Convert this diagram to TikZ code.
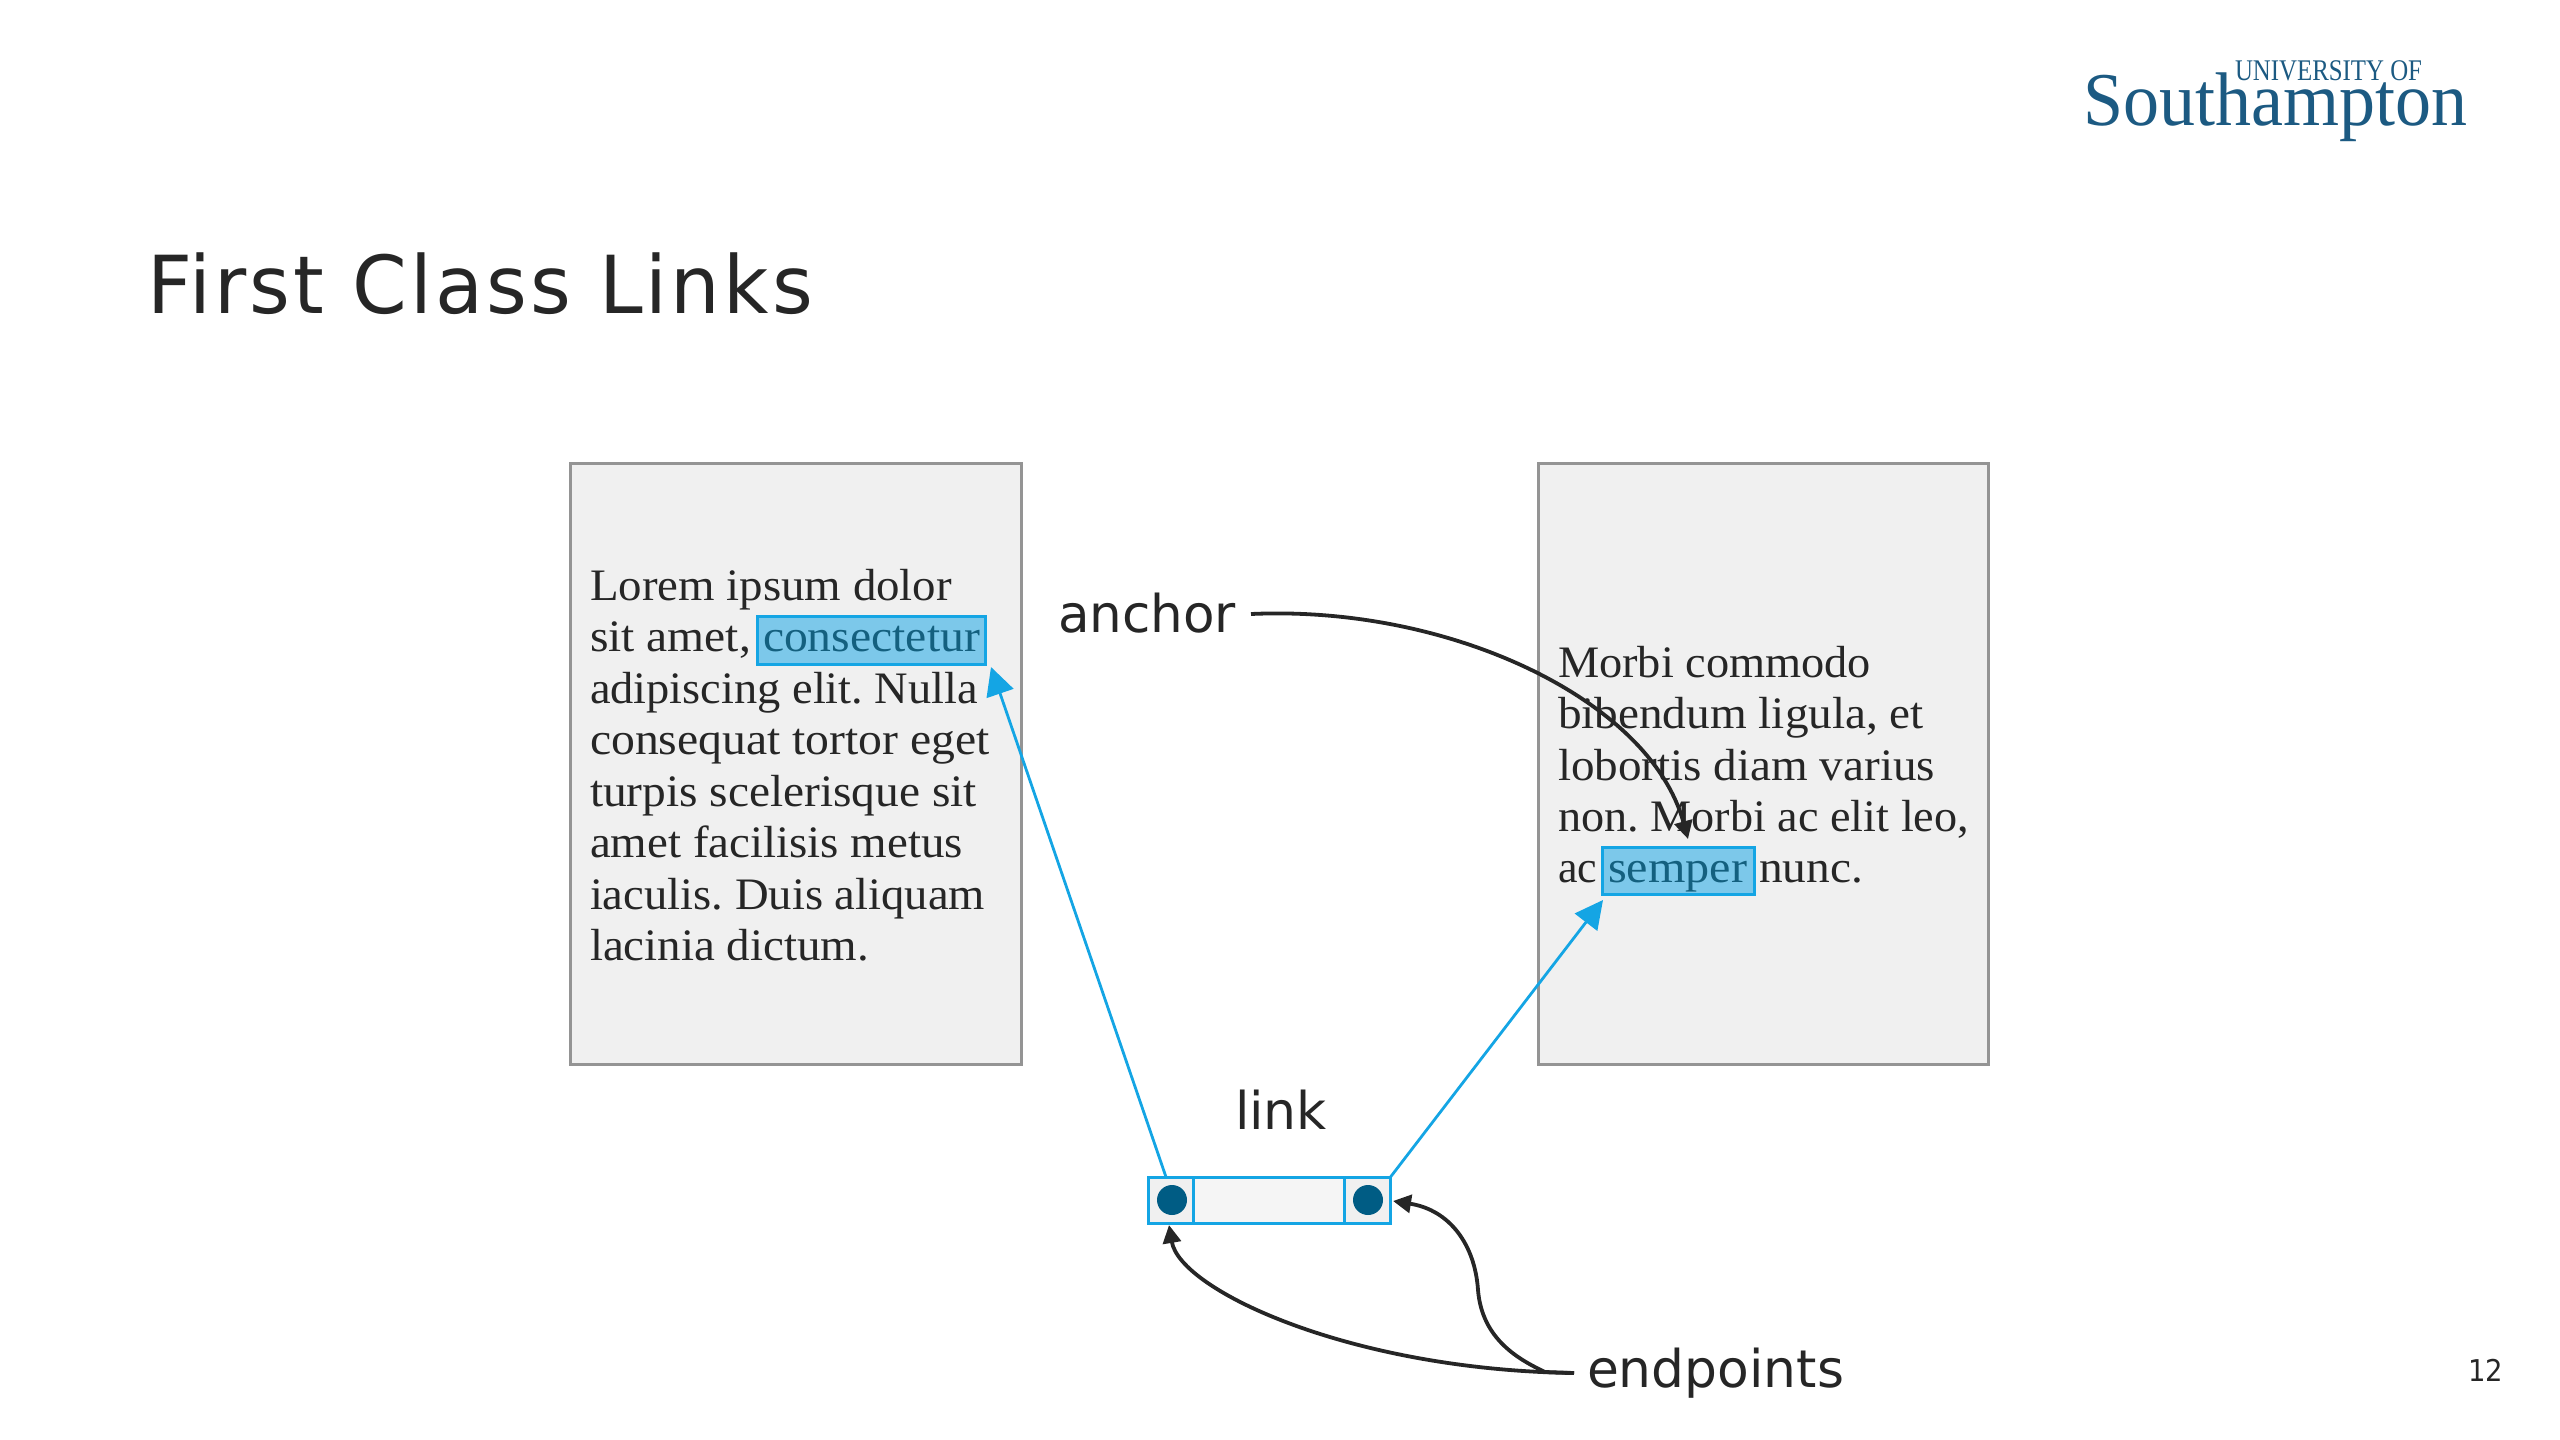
\documentclass[tikz,border=0pt]{standalone}
\usepackage{fontspec}
\usepackage{graphicx}
\setmainfont{Liberation Serif}
\newfontfamily\labelfont{DejaVu Sans}
\newfontfamily\titlefont[LetterSpace=4]{DejaVu Sans}
\usetikzlibrary{arrows.meta}
\definecolor{cblue}{HTML}{14A5E4}
\definecolor{hlfill}{HTML}{7CC8EA}
\definecolor{hltext}{HTML}{14607F}
\definecolor{dotblue}{HTML}{005C84}
\definecolor{logoblue}{HTML}{1C5A82}
\definecolor{ink}{HTML}{262626}
\definecolor{pagegray}{HTML}{F0F0F0}
\newsavebox\fitbox
\newcommand\fitw[2]{\sbox\fitbox{#2}\pgfmathsetmacro\fitr{(#1)*0.5/\wd\fitbox}\scalebox{\fitr}[1]{\usebox\fitbox}}
\newcommand\bodysize{\fontsize{22.5}{27}\selectfont\frenchspacing}
\tikzset{
  txt/.style={anchor=base west,inner sep=0pt,outer sep=0pt,text=ink},
  pagebox/.style={draw=black!42,fill=pagegray,line width=1.5pt,inner sep=0pt,outer sep=0pt,minimum width=225.5pt,minimum height=300.5pt},
  hlbox/.style={draw=cblue,fill=hlfill,line width=1.5pt,inner sep=0pt,outer sep=0pt},
  cell/.style={draw=cblue,line width=1.5pt,inner sep=0pt,outer sep=0pt,minimum height=23pt},
  dot/.style={fill=dotblue,circle,inner sep=0pt,minimum size=15pt},
  bluearrow/.style={draw=cblue,line width=1.4pt,-{Triangle[length=14pt,width=14pt,fill=cblue]}},
  blackarrow/.style={draw=ink,line width=1.9pt,-{Triangle[length=9pt,width=9pt,fill=ink]}},
}
\newcommand\bodyline[5]{\node[txt] (#1) at (#2,#3) {\bodysize\fitw{#4-#2}{#5}};}
\newcommand\sanslabel[5]{\node[txt] (#1) at (#2,#3) {\labelfont\fontsize{26}{30}\selectfont\fitw{#4-#2}{#5}};}
\begin{document}
\begin{tikzpicture}[x=0.5pt,y=-0.5pt]
\useasboundingbox (0,0) rectangle (2560,1440);
% logo
\node[txt,text=logoblue] (logotop) at (2235,80) {\fontsize{15}{18}\selectfont\fitw{187}{UNIVERSITY OF}};
\node[txt,text=logoblue] (logomain) at (2083,125) {\fontsize{38}{44}\selectfont\fitw{384}{Southampton}};
% title
\node[txt] (title) at (147,313) {\titlefont\fontsize{40}{48}\selectfont\fitw{666}{First Class Links}};
% pages
\node[pagebox] (leftpage) at (796,763.5) {};
\node[pagebox,minimum width=225pt] (rightpage) at (1763,763.5) {};
% highlights
\node[hlbox,minimum width=114pt,minimum height=24pt] (consect) at (871,640) {};
\node[hlbox,minimum width=76pt,minimum height=23.5pt] (semperbox) at (1678,871) {};
% left text
\bodyline{la}{590}{600}{952}{Lorem ipsum dolor}
\bodyline{lb}{590}{651.5}{751}{sit amet,}
\node[txt,text=hltext] (lbw) at (763,651.5) {\bodysize\fitw{217}{consectetur}};
\bodyline{lc}{590}{703}{978}{adipiscing elit. Nulla}
\bodyline{ld}{590}{754.5}{990}{consequat tortor eget}
\bodyline{le}{590}{806}{977}{turpis scelerisque sit}
\bodyline{lf}{590}{857.5}{963}{amet facilisis metus}
\bodyline{lg}{590}{909}{985}{iaculis. Duis aliquam}
\bodyline{lh}{590}{960.5}{869}{lacinia dictum.}
% right text
\bodyline{ra}{1558}{677}{1871}{Morbi commodo}
\bodyline{rb}{1558}{728.5}{1924}{bibendum ligula, et}
\bodyline{rc}{1558}{780}{1935}{lobortis diam varius}
\bodyline{rd}{1558}{831}{1969}{non. Morbi ac elit leo,}
\bodyline{re}{1558}{882}{1597}{ac}
\node[txt,text=hltext] (rew) at (1608,882) {\bodysize\fitw{139}{semper}};
\bodyline{rf}{1759}{882}{1863}{nunc.}
% labels
\sanslabel{anchorlbl}{1058}{632}{1236}{anchor}
\sanslabel{linklbl}{1235}{1129}{1327}{link}
\sanslabel{endlbl}{1587}{1387}{1844}{endpoints}
\node[txt] (pagenum) at (2468,1381) {\labelfont\fontsize{15}{18}\selectfont\fitw{35}{12}};
% link widget
\node[cell,fill=black!4,minimum width=120.5pt] (linkbar) at (1269,1200) {};
\node[cell,fill=pagegray,minimum width=22.5pt] (endL) at (1171,1200) {};
\node[cell,fill=pagegray,minimum width=23pt] (endR) at (1367.5,1200) {};
\node[dot] (dotL) at (1172,1200) {};
\node[dot] (dotR) at (1368,1200) {};
% connectors
\coordinate (tipL) at (991,667);
\coordinate (tailL) at (1166,1177);
\coordinate (tipR) at (1603,900);
\draw[bluearrow] (tailL) -- (tipL);
\draw[bluearrow] (endR.north east) -- (tipR);
\coordinate (anchorstart) at (1251,614);
\coordinate (anchortip) at (1688,839);
\draw[blackarrow] (anchorstart) .. controls (1450,605) and (1650,700) .. (anchortip);
\coordinate (endstart) at (1574,1373);
\coordinate (tipEL) at (1169,1225);
\coordinate (tipER) at (1393,1201);
\draw[blackarrow] (endstart) .. controls (1350,1370) and (1180,1290) .. (tipEL);
\draw[blackarrow] (endstart) -- (1545,1372) .. controls (1520,1360) and (1482,1340) .. (1478,1290) .. controls (1475,1245) and (1450,1210) .. (tipER);
\end{tikzpicture}
\end{document}
